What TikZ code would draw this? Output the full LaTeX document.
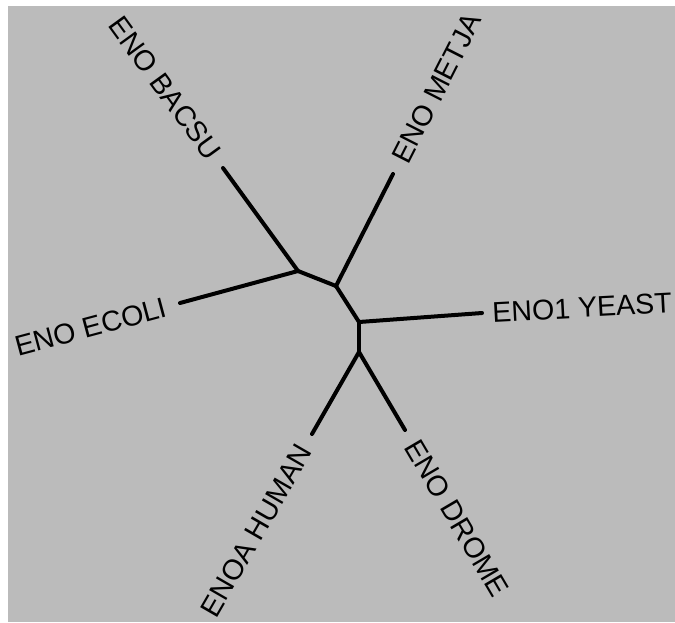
\documentclass[tikz,border=0pt]{standalone}
\usepackage{fontspec}
\setmainfont{Liberation Sans}
\usepackage{tikz}
\definecolor{bggray}{RGB}{187,187,187}
\tikzset{
  branch/.style={line width=2pt, line cap=round, line join=round},
  lbl/.style={font=\fontsize{14.3}{16}\selectfont, inner xsep=7pt, inner ysep=0pt}
}

\begin{document}
\begin{tikzpicture}[x=0.5pt,y=-0.5pt]
\useasboundingbox (0,0) rectangle (675,622);
\fill[white] (0,0) rectangle (675,622);
\fill[bggray] (8,6) rectangle (675,622);

\coordinate (I1) at (298,271);
\coordinate (I2) at (336,286);
\coordinate (I3) at (359,322);
\coordinate (I4) at (359,352);

\node[lbl, anchor=east, rotate=-54] (BACSU) at (223,168) {ENO BACSU};
\node[lbl, anchor=west, rotate=63] (METJA) at (393,174) {ENO METJA};
\node[lbl, anchor=west, rotate=3, inner xsep=5pt] (YEAST) at (482,313) {ENO1 YEAST};
\node[lbl, anchor=east, rotate=15] (ECOLI) at (180,303) {ENO ECOLI};
\node[lbl, anchor=east, rotate=60] (HUMAN) at (312,434) {ENOA HUMAN};
\node[lbl, anchor=west, rotate=-59.5] (DROME) at (405,430) {ENO DROME};

\draw[branch] (I1) -- (I2);
\draw[branch] (I2) -- (I3);
\draw[branch] (I3) -- (I4);
\draw[branch] (I1) -- (BACSU.east);
\draw[branch] (I1) -- (ECOLI.east);
\draw[branch] (I2) -- (METJA.west);
\draw[branch] (I3) -- (YEAST.west);
\draw[branch] (I4) -- (HUMAN.east);
\draw[branch] (I4) -- (DROME.west);
\end{tikzpicture}
\end{document}
